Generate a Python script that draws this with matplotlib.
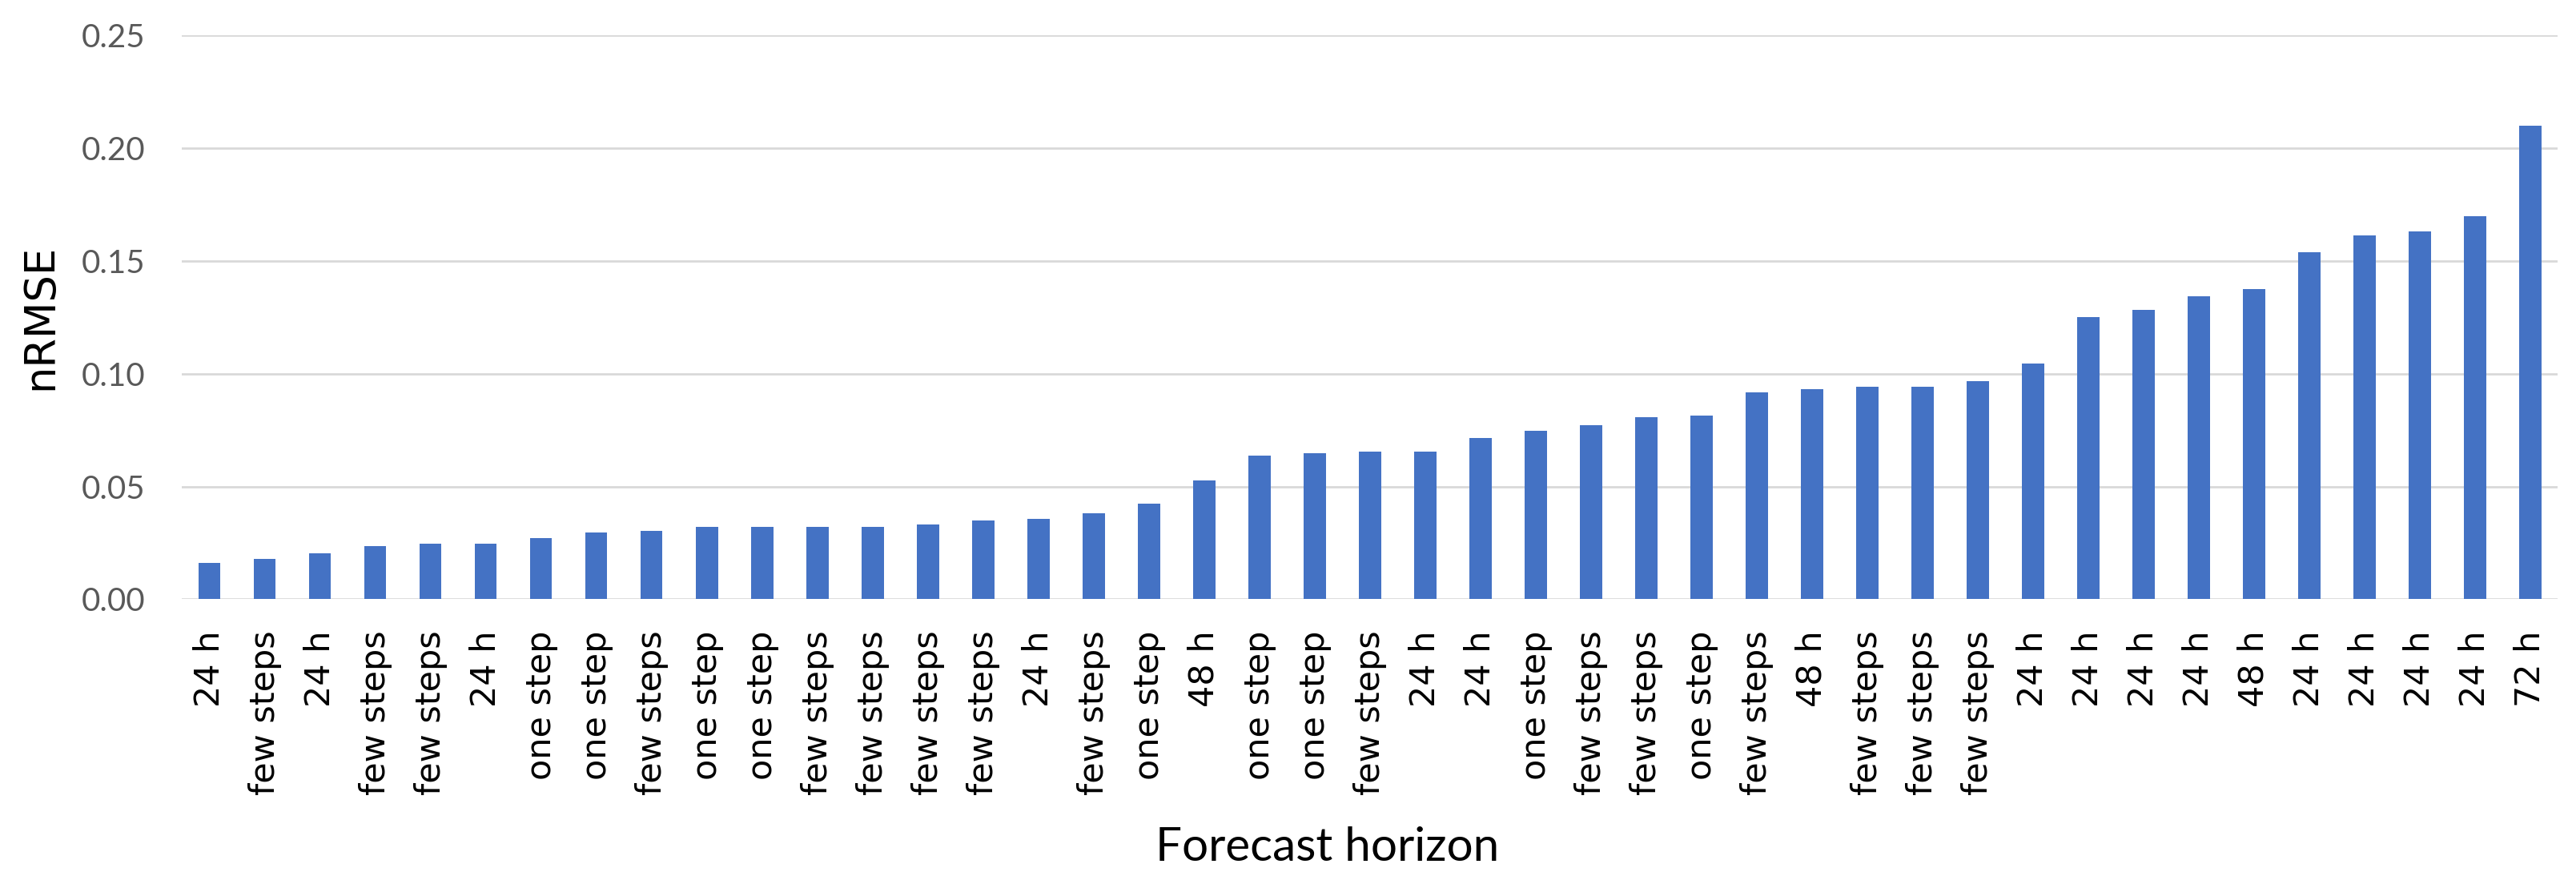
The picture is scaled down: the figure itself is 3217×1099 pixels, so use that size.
import matplotlib
matplotlib.use('Agg')
import numpy as np
import matplotlib.pyplot as plt

horizons = ['24 h', 'few steps', '24 h', 'few steps', 'few steps', '24 h',
            'one step', 'one step', 'few steps', 'one step', 'one step',
            'few steps', 'few steps', 'few steps', 'few steps', '24 h',
            'few steps', 'one step', '48 h', 'one step', 'one step',
            'few steps', '24 h', '24 h', 'one step', 'few steps', 'few steps',
            'one step', 'few steps', '48 h', 'few steps', 'few steps',
            'few steps', '24 h', '24 h', '24 h', '24 h', '48 h', '24 h',
            '24 h', '24 h', '24 h', '72 h']
nrmse = [0.016, 0.018, 0.0205, 0.0237, 0.0246, 0.0246, 0.0272, 0.0297,
         0.0304, 0.0322, 0.0322, 0.0322, 0.0322, 0.0332, 0.0348, 0.0357,
         0.0382, 0.0424, 0.0527, 0.0638, 0.0647, 0.0654, 0.0654, 0.0714,
         0.0748, 0.0772, 0.0806, 0.0815, 0.0918, 0.0933, 0.0942, 0.0942,
         0.0967, 0.1045, 0.125, 0.1281, 0.1342, 0.1375, 0.1538, 0.1614,
         0.163, 0.1699, 0.2098]
yticks = [0.0, 0.05, 0.10, 0.15, 0.20, 0.25]

fig = plt.figure(figsize=(32.17, 10.99), dpi=100)
ax = fig.add_axes([0.0706, 0.319, 0.9224, 0.641])

x = np.arange(len(nrmse))
ax.bar(x, nrmse, width=0.4, color='#4472C4', zorder=3)

ax.set_xlim(-0.5, len(nrmse) - 0.5)
ax.set_ylim(0, 0.25)
ax.set_yticks(yticks)
ax.set_yticklabels(['%.2f' % v for v in yticks], family='Lato', fontsize=29,
                   color='#595959')
ax.set_xticks(x)
ax.set_xticklabels(horizons, rotation=90, family='DejaVu Sans', fontsize=31,
                   color='black', va='top', ha='center')
ax.tick_params(axis='both', length=0)
ax.tick_params(axis='y', pad=33)
ax.tick_params(axis='x', pad=28)

ax.grid(axis='y', color='#D9D9D9', linewidth=2.0, zorder=0)
for s in ax.spines.values():
    s.set_visible(False)

ax.set_ylabel('nRMSE', family='DejaVu Sans', fontsize=38, labelpad=18)
ax.set_xlabel('Forecast horizon', family='Lato', fontsize=42, va='center')
ax.xaxis.set_label_coords(0.482, -0.44)

fig.savefig('out.png', dpi=100)
